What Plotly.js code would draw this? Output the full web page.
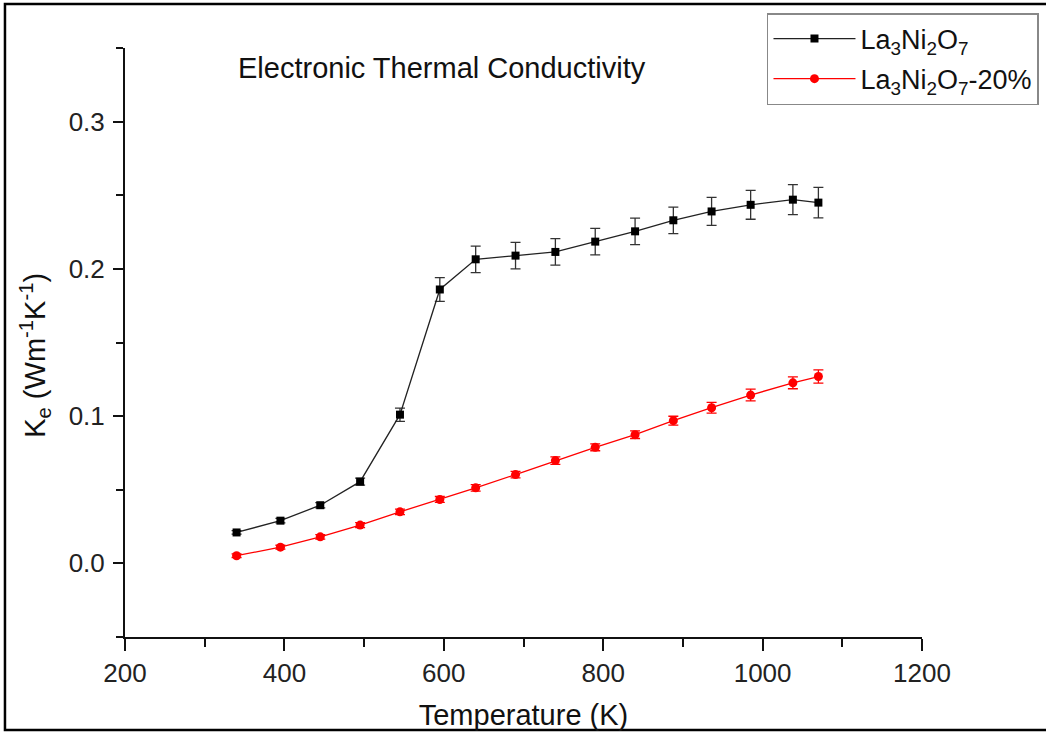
<!DOCTYPE html>
<html>
<head>
<meta charset="utf-8">
<script src="https://cdn.plot.ly/plotly-3.0.1.min.js"></script>
<style>
html,body{margin:0;padding:0;background:#fff;}
#chart{width:1046px;height:733px;}
</style>
</head>
<body>
<div id="chart"></div>
<script>
// Temperature (K)
const temperature = [340, 395, 445, 495, 545, 595, 640, 690, 740, 790, 840, 888, 936, 985, 1038, 1070];
// La3Ni2O7
const kePure = [0.021, 0.029, 0.0395, 0.0555, 0.101, 0.186, 0.2065, 0.209, 0.2115, 0.2185, 0.2255, 0.233, 0.239, 0.2435, 0.247, 0.245];
const errPure = [0.0012, 0.0015, 0.0018, 0.0024, 0.0045, 0.0081, 0.009, 0.009, 0.009, 0.009, 0.009, 0.009, 0.0095, 0.0098, 0.0102, 0.0103];
// La3Ni2O7-20%
const keDoped = [0.0052, 0.011, 0.018, 0.026, 0.035, 0.0434, 0.0513, 0.0603, 0.0698, 0.0788, 0.0874, 0.0969, 0.1057, 0.1143, 0.1226, 0.1269];
const errDoped = [0.0012, 0.0013, 0.0015, 0.0017, 0.0019, 0.002, 0.0022, 0.0022, 0.0025, 0.0023, 0.0026, 0.003, 0.0036, 0.004, 0.004, 0.0045];

const seriesNames = ['La<sub>3</sub>Ni<sub>2</sub>O<sub>7</sub>', 'La<sub>3</sub>Ni<sub>2</sub>O<sub>7</sub>-20%'];
const xTicks = [200, 400, 600, 800, 1000, 1200];
const yTicks = [0.0, 0.1, 0.2, 0.3];
const yTickText = ['0.0', '0.1', '0.2', '0.3'];

const FONT = 'Liberation Sans, Arial, sans-serif';

const traces = [
  {
    x: temperature, y: kePure, name: seriesNames[0], type: 'scatter', mode: 'lines+markers',
    legendgroup: 'a',
    line: {color: '#222', width: 1.3},
    marker: {symbol: 'square', size: 8, color: '#000'},
    error_y: {type: 'data', array: errPure, visible: true, color: '#333', thickness: 1.3, width: 5}
  },
  {
    x: temperature, y: keDoped, name: seriesNames[1], type: 'scatter', mode: 'lines+markers',
    legendgroup: 'b',
    line: {color: '#ff0000', width: 1.3},
    marker: {symbol: 'circle', size: 9, color: '#ff0000'},
    error_y: {type: 'data', array: errDoped, visible: true, color: '#ff0000', thickness: 1.3, width: 5}
  }
];

const layout = {
  width: 1046, height: 733,
  margin: {l: 125, r: 124, t: 48, b: 96, pad: 0, autoexpand: false},
  paper_bgcolor: '#fff', plot_bgcolor: '#fff',
  font: {family: FONT, color: '#111'},
  showlegend: true,
  legend: {
    x: 0.8055, y: 1.0594, xanchor: 'left', yanchor: 'top',
    bgcolor: '#fff', bordercolor: '#888', borderwidth: 1.5,
    font: {family: FONT, size: 27, color: '#111'},
    itemwidth: 82, traceorder: 'grouped', tracegroupgap: 2
  },
  xaxis: {
    range: [200, 1200], showgrid: false, zeroline: false,
    showline: true, linecolor: '#111', linewidth: 2,
    ticks: 'outside', ticklen: 12, tickwidth: 2, tickcolor: '#111',
    tickvals: xTicks, ticktext: xTicks.map(String),
    tickfont: {family: FONT, size: 26, color: '#222'},
    minor: {dtick: 100, ticks: 'outside', ticklen: 8, tickwidth: 2, tickcolor: '#111', showgrid: false},
    title: {text: 'Temperature (K)', font: {family: FONT, size: 29, color: '#111'}, standoff: 17}
  },
  yaxis: {
    range: [-0.05, 0.35], showgrid: false, zeroline: false,
    showline: true, linecolor: '#111', linewidth: 2,
    ticks: 'outside', ticklen: 10, tickwidth: 2, tickcolor: '#111',
    tickvals: yTicks, ticktext: yTickText,
    tickfont: {family: FONT, size: 26, color: '#222'},
    ticklabelstandoff: 3,
    minor: {tick0: -0.05, dtick: 0.05, ticks: 'outside', ticklen: 7, tickwidth: 2, tickcolor: '#111', showgrid: false}
  },
  annotations: [
    {
      text: 'Electronic Thermal Conductivity', xref: 'x', yref: 'paper',
      x: 339, y: 0.966, xanchor: 'left', yanchor: 'middle', showarrow: false,
      font: {family: FONT, size: 29, color: '#111'}
    },
    {
      text: 'K<sub>e</sub> (Wm<sup>-1</sup>K<sup>-1</sup>)', xref: 'paper', yref: 'paper',
      x: -0.113, y: 0.479, xanchor: 'center', yanchor: 'middle', textangle: -90, showarrow: false,
      font: {family: FONT, size: 29, color: '#111'}
    }
  ],
  shapes: [
    {
      type: 'rect', xref: 'paper', yref: 'paper',
      x0: -0.1506, x1: 1.17, y0: -0.1579, y1: 1.0747,
      line: {color: '#000', width: 2.5}, fillcolor: 'rgba(0,0,0,0)', layer: 'below'
    }
  ]
};

Plotly.newPlot('chart', traces, layout, {displayModeBar: false, staticPlot: true});
</script>
</body>
</html>
